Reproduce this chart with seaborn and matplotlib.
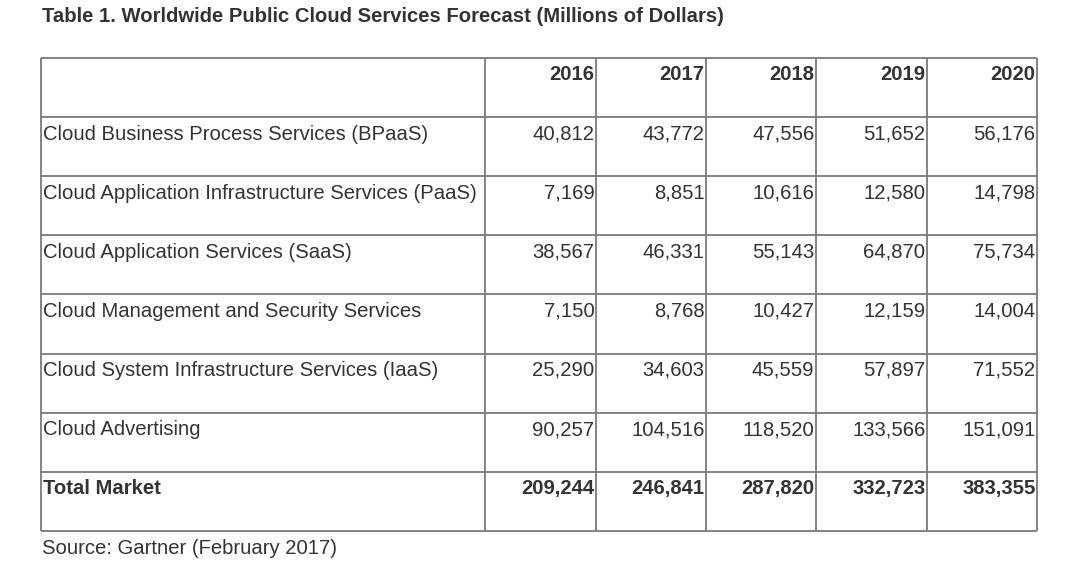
import matplotlib.pyplot as plt
import seaborn as sns

years = ["2016", "2017", "2018", "2019", "2020"]
services = [
    "Cloud Business Process Services (BPaaS)",
    "Cloud Application Infrastructure Services (PaaS)",
    "Cloud Application Services (SaaS)",
    "Cloud Management and Security Services",
    "Cloud System Infrastructure Services (IaaS)",
    "Cloud Advertising",
]
bpaas = [40812, 43772, 47556, 51652, 56176]
paas = [7169, 8851, 10616, 12580, 14798]
saas = [38567, 46331, 55143, 64870, 75734]
mgmt = [7150, 8768, 10427, 12159, 14004]
iaas = [25290, 34603, 45559, 57897, 71552]
advertising = [90257, 104516, 118520, 133566, 151091]
total_label = "Total Market"
total = [209244, 246841, 287820, 332723, 383355]

title = "Table 1. Worldwide Public Cloud Services Forecast (Millions of Dollars)"
source = "Source: Gartner (February 2017)"

rows = [bpaas, paas, saas, mgmt, iaas, advertising]

sns.set_theme(style="white")
plt.rcParams['font.family'] = ['Liberation Sans', 'DejaVu Sans']

text_color = "#333333"
line_color = "#7a7a7a"

# table geometry in pixels
col_edges = [41, 485, 596, 706, 816, 927, 1037]
row_top = 58
row_h = 59.1
n_rows = len(services) + 2
row_edges = [row_top + i * row_h for i in range(n_rows + 1)]

fig = plt.figure(figsize=(10.8, 5.65), dpi=100)
ax = fig.add_axes([0, 0, 1, 1])
ax.set_xlim(0, 1080)
ax.set_ylim(565, 0)
ax.axis("off")

ax.hlines(row_edges, col_edges[0], col_edges[-1], color=line_color, lw=1.3)
ax.vlines(col_edges, row_edges[0], row_edges[-1], color=line_color, lw=1.3)

fs = 14.6
off = 17

# header
for j, yr in enumerate(years):
    ax.text(col_edges[j + 2] - 1.5, row_edges[0] + off, yr, ha="right", va="center",
            fontsize=fs, fontweight="bold", color=text_color)

for i, (name, vals) in enumerate(zip(services, rows)):
    y = row_edges[i + 1] + off
    ax.text(col_edges[0] + 2, y, name, ha="left", va="center", fontsize=fs, color=text_color)
    for j, v in enumerate(vals):
        ax.text(col_edges[j + 2] - 1.5, y, f"{v:,}", ha="right", va="center",
                fontsize=fs, color=text_color)

y = row_edges[-2] + off
ax.text(col_edges[0] + 2, y, total_label, ha="left", va="center", fontsize=fs,
        fontweight="bold", color=text_color)
for j, v in enumerate(total):
    ax.text(col_edges[j + 2] - 1.5, y, f"{v:,}", ha="right", va="center",
            fontsize=fs, fontweight="bold", color=text_color)

ax.text(42, 17, title, ha="left", va="center", fontsize=14.6, fontweight="bold", color=text_color)
ax.text(42, 548, source, ha="left", va="center", fontsize=fs, color=text_color)

fig.savefig("out.png", dpi=100, facecolor="white")
